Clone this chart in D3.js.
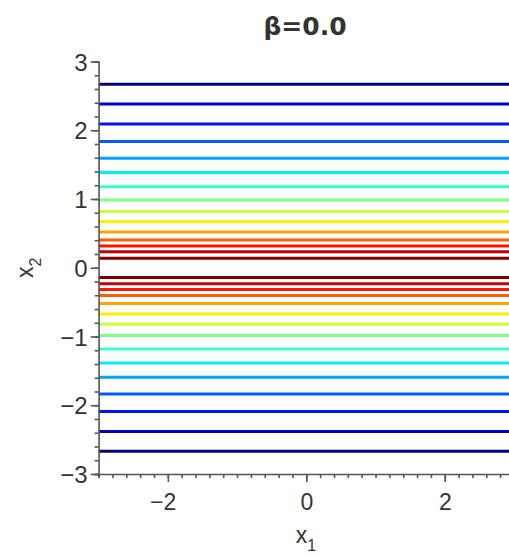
<!DOCTYPE html>
<html>
<head>
<meta charset="utf-8">
<script src="https://cdn.jsdelivr.net/npm/d3@7"></script>
<style>
  html, body { margin: 0; padding: 0; background: #fff; overflow: hidden; }
  svg { display: block; }
  text { font-family: "Liberation Sans", Arial, sans-serif; fill: #333; }
</style>
</head>
<body>
<svg id="chart" width="509" height="555"></svg>
<script>
// Contour levels: each level is a horizontal line x2 = const (no x1 dependence at β = 0).
// Index 0 is the outermost (lowest) level, index 14 the innermost (highest).
const upperLines = [2.669, 2.383, 2.092, 1.835, 1.593, 1.386, 1.180, 0.987, 0.820, 0.671, 0.521, 0.405, 0.315, 0.233, 0.140];
const lowerLines = [-2.669, -2.383, -2.092, -1.835, -1.593, -1.386, -1.180, -0.987, -0.820, -0.671, -0.521, -0.405, -0.315, -0.233, -0.140];
const levelIndex = [0, 1, 2, 3, 4, 5, 6, 7, 8, 9, 10, 11, 12, 13, 14];

const x1Domain = [-3, 3];
const x2Domain = [-3, 3];
const x1Ticks = [-2, 0, 2];
const x2Ticks = [-3, -2, -1, 0, 1, 2, 3];
const titleText = "β=0.0";

const svg = d3.select("#chart");

const x = d3.scaleLinear().domain(x1Domain).range([98.6, 514]);
const y = d3.scaleLinear().domain(x2Domain).range([474, 61.5]);

// jet colormap
function jet(t) {
  const c = v => Math.max(0, Math.min(1, v));
  const r = c(1.5 - Math.abs(4 * t - 3));
  const g = c(1.5 - Math.abs(4 * t - 2));
  const b = c(1.5 - Math.abs(4 * t - 1));
  return d3.rgb(r * 255, g * 255, b * 255).formatHex();
}
const color = d3.scaleSequential(jet).domain([0, levelIndex.length - 1]);

const lines = [];
levelIndex.forEach((k, i) => {
  lines.push({ v: upperLines[i], k });
  lines.push({ v: lowerLines[i], k });
});

svg.append("g").selectAll("line")
  .data(lines)
  .join("line")
  .attr("x1", x(x1Domain[0]))
  .attr("x2", x(x1Domain[1]))
  .attr("y1", d => y(d.v))
  .attr("y2", d => y(d.v))
  .attr("stroke", d => color(d.k))
  .attr("stroke-width", 3);

const axisColor = "#555";
const fmt = d => String(d).replace("-", "−");

// minor ticks every 0.2
const minorX = d3.range(-3, 3.001, 0.2).map(v => +v.toFixed(1));
const minorY = d3.range(-3, 3.001, 0.2).map(v => +v.toFixed(1));

// x axis
const gx = svg.append("g").attr("transform", `translate(0,${y(x2Domain[0])})`);
gx.call(d3.axisBottom(x).tickValues(minorX).tickSize(4).tickFormat(""));
gx.append("g").call(d3.axisBottom(x).tickValues(x1Ticks).tickSize(8).tickFormat(fmt))
  .call(g => g.select(".domain").remove());
gx.selectAll("path, line").attr("stroke", axisColor).attr("stroke-width", 1.6);
// digits sit on the tick, a leading minus hangs to the left
gx.selectAll("text").attr("font-size", 23).attr("y", 14).attr("dy", "0.95em")
  .attr("text-anchor", d => d < 0 ? "end" : "middle")
  .attr("x", d => d < 0 ? 8 : 0)
  .style("font-family", "'Liberation Sans', Arial, sans-serif").attr("fill", "#333");

// y axis
const gy = svg.append("g").attr("transform", `translate(${x(x1Domain[0])},0)`);
gy.call(d3.axisLeft(y).tickValues(minorY).tickSize(4).tickFormat(""));
gy.append("g").call(d3.axisLeft(y).tickValues(x2Ticks).tickSize(8).tickFormat(fmt))
  .call(g => g.select(".domain").remove());
gy.selectAll("path, line").attr("stroke", axisColor).attr("stroke-width", 1.6);
gy.selectAll("text").attr("font-size", 24).attr("x", -11).attr("dy", "0.36em")
  .style("font-family", "'Liberation Sans', Arial, sans-serif").attr("fill", "#333");

// axis titles
const xt = svg.append("text").attr("x", 306).attr("y", 543).attr("text-anchor", "middle")
  .attr("font-size", 23);
xt.append("tspan").text("x");
xt.append("tspan").attr("font-size", 16).attr("dy", 8).text("1");

const yt = svg.append("text").attr("transform", `translate(33,${y(0)}) rotate(-90)`)
  .attr("text-anchor", "middle").attr("font-size", 23);
yt.append("tspan").text("x");
yt.append("tspan").attr("font-size", 16).attr("dy", 8).text("2");

// title
svg.append("text").attr("x", 305).attr("y", 35).attr("text-anchor", "middle")
  .attr("font-size", 25).attr("font-weight", "bold").attr("fill", "#222")
  .style("font-family", "'DejaVu Sans', sans-serif")
  .text(titleText);
</script>
</body>
</html>
